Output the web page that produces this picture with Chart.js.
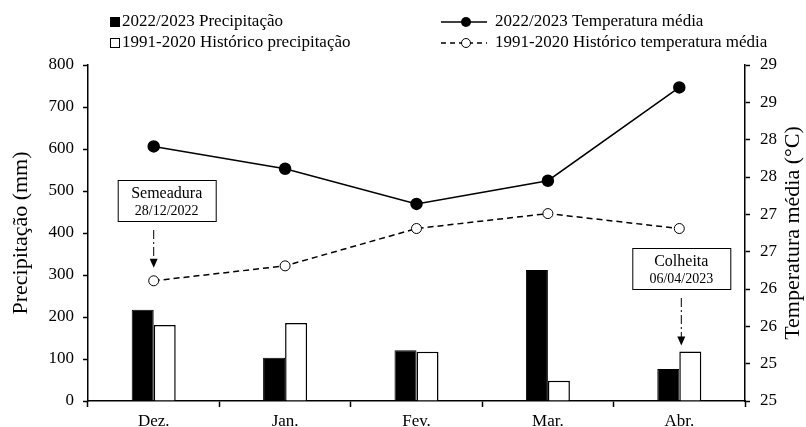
<!DOCTYPE html>
<html lang="pt-BR">
<head>
    <meta charset="UTF-8">
    <title>Precipitação e temperatura</title>
    <style>
        body { margin: 0; background: #ffffff; }
        #grafico { display: block; }
    </style>
    <script src="https://cdn.jsdelivr.net/npm/chart.js"></script>
</head>
<body>
    <canvas id="grafico" width="806" height="427"></canvas>
    <script>
        // dados
        const meses = ['Dez.', 'Jan.', 'Fev.', 'Mar.', 'Abr.'];
        const precip2223 = [217, 103, 121, 312, 76];
        const precipHist = [181, 186, 117, 48, 118];
        const temp2223 = [28.41, 28.11, 27.64, 27.95, 29.20];
        const tempHist = [26.61, 26.81, 27.31, 27.51, 27.31];
        const escalaPrecip = [0, 800, 100];   // min, max, passo
        const escalaTemp = [25, 29.5, 0.5];

        const fonte = '"Liberation Serif", "Times New Roman", serif';

        function caixaEvento(ctx, cx, topo, titulo, data, setaX, pontaY) {
            const w = 98, h = 41;
            ctx.save();
            ctx.fillStyle = '#fff';
            ctx.strokeStyle = '#000';
            ctx.lineWidth = 1;
            ctx.fillRect(cx - w / 2, topo, w, h);
            ctx.strokeRect(cx - w / 2 + 0.5, topo + 0.5, w, h);
            ctx.fillStyle = '#000';
            ctx.textAlign = 'center';
            ctx.textBaseline = 'middle';
            ctx.font = '16px ' + fonte;
            ctx.fillText(titulo, cx, topo + 14);
            ctx.font = '14px ' + fonte;
            ctx.fillText(data, cx, topo + 31);
            // seta traço-ponto
            ctx.beginPath();
            ctx.setLineDash([9, 3, 2, 3]);
            ctx.moveTo(setaX, topo + h + 9);
            ctx.lineTo(setaX, pontaY - 8);
            ctx.stroke();
            ctx.setLineDash([]);
            ctx.beginPath();
            ctx.moveTo(setaX - 4, pontaY - 9);
            ctx.lineTo(setaX + 4, pontaY - 9);
            ctx.lineTo(setaX, pontaY);
            ctx.closePath();
            ctx.fill();
            ctx.restore();
        }

        const extras = {
            id: 'extras',
            afterDraw(chart) {
                const ctx = chart.ctx;
                const x = chart.scales.x, yT = chart.scales.yT, yP = chart.scales.yP;
                const meioY = (chart.chartArea.top + chart.chartArea.bottom) / 2;
                ctx.save();
                ctx.fillStyle = '#000';
                ctx.strokeStyle = '#000';
                ctx.font = '17px ' + fonte;
                ctx.textBaseline = 'middle';
                // legenda
                ctx.fillRect(110, 17, 10, 10);
                ctx.lineWidth = 1;
                ctx.strokeRect(110.5, 38.5, 9, 9);
                ctx.fillText('2022/2023 Precipitação', 122, 22);
                ctx.fillText('1991-2020 Histórico precipitação', 122, 43);
                ctx.lineWidth = 1.5;
                ctx.beginPath();
                ctx.moveTo(441, 22); ctx.lineTo(487, 22);
                ctx.stroke();
                ctx.beginPath();
                ctx.arc(466, 22, 5, 0, Math.PI * 2);
                ctx.fill();
                ctx.setLineDash([5, 4]);
                ctx.beginPath();
                ctx.moveTo(441, 43); ctx.lineTo(487, 43);
                ctx.stroke();
                ctx.setLineDash([]);
                ctx.beginPath();
                ctx.arc(466, 43, 4.5, 0, Math.PI * 2);
                ctx.fillStyle = '#fff';
                ctx.fill();
                ctx.lineWidth = 1;
                ctx.stroke();
                ctx.fillStyle = '#000';
                ctx.fillText('2022/2023 Temperatura média', 495, 22);
                ctx.fillText('1991-2020 Histórico temperatura média', 495, 43);

                // títulos dos eixos (ambos lidos de baixo para cima)
                ctx.font = '22px ' + fonte;
                ctx.textAlign = 'center';
                ctx.save();
                ctx.translate(21, meioY);
                ctx.rotate(-Math.PI / 2);
                ctx.fillText('Precipitação (mm)', 0, 0);
                ctx.restore();
                ctx.save();
                ctx.translate(793, meioY);
                ctx.rotate(-Math.PI / 2);
                ctx.fillText('Temperatura média (°C)', 0, 0);
                ctx.restore();
                ctx.restore();

                // semeadura e colheita
                const xDez = x.getPixelForValue(0);
                caixaEvento(ctx, xDez + 13, 180, 'Semeadura', '28/12/2022', xDez, yT.getPixelForValue(tempHist[0]) - 13);
                const xAbr = x.getPixelForValue(4);
                caixaEvento(ctx, xAbr + 2, 248, 'Colheita', '06/04/2023', xAbr + 2, yP.getPixelForValue(precipHist[4]) - 6);
            }
        };

        new Chart(document.getElementById('grafico'), {
            data: {
                labels: meses,
                datasets: [
                    {
                        type: 'line', label: '2022/2023 Temperatura média', data: temp2223, yAxisID: 'yT',
                        borderColor: '#000', borderWidth: 1.5, pointRadius: 5.5,
                        pointBackgroundColor: '#000', pointBorderColor: '#000', order: 0
                    },
                    {
                        type: 'line', label: '1991-2020 Histórico temperatura média', data: tempHist, yAxisID: 'yT',
                        borderColor: '#000', borderWidth: 1.5, borderDash: [6, 4], pointRadius: 5,
                        pointBackgroundColor: '#fff', pointBorderColor: '#000', pointBorderWidth: 1, order: 1
                    },
                    {
                        type: 'bar', label: '2022/2023 Precipitação', data: precip2223, yAxisID: 'yP',
                        backgroundColor: '#000', borderColor: '#000', borderWidth: 1,
                        categoryPercentage: 0.335, barPercentage: 1, order: 2
                    },
                    {
                        type: 'bar', label: '1991-2020 Histórico precipitação', data: precipHist, yAxisID: 'yP',
                        backgroundColor: '#fff', borderColor: '#000', borderWidth: 1.5,
                        categoryPercentage: 0.335, barPercentage: 1, order: 2
                    }
                ]
            },
            options: {
                responsive: false,
                animation: false,
                layout: { padding: { top: 65, left: 0, right: 0, bottom: 0 } },
                plugins: { legend: { display: false }, tooltip: { enabled: false } },
                scales: {
                    x: {
                        offset: true,
                        grid: { offset: true, drawOnChartArea: false, tickLength: 6, color: '#000', tickWidth: 1.5 },
                        border: { color: '#000', width: 1.5 },
                        ticks: { color: '#000', font: { family: fonte, size: 17 }, padding: 4 },
                        afterFit(s) { s.height = 26; }
                    },
                    yP: {
                        position: 'left',
                        min: escalaPrecip[0], max: escalaPrecip[1],
                        ticks: { stepSize: escalaPrecip[2], color: '#000', font: { family: fonte, size: 17 }, padding: 9 },
                        grid: { drawOnChartArea: false, tickLength: 5, color: '#000', tickWidth: 1.5 },
                        border: { color: '#000', width: 1.5 },
                        afterFit(s) { s.width = 88; }
                    },
                    yT: {
                        position: 'right',
                        min: escalaTemp[0], max: escalaTemp[1],
                        ticks: {
                            stepSize: escalaTemp[2], color: '#000', font: { family: fonte, size: 17 }, padding: 10,
                            callback: v => Math.floor(v)
                        },
                        grid: { drawOnChartArea: false, tickLength: 5, color: '#000', tickWidth: 1.5 },
                        border: { color: '#000', width: 1.5 },
                        afterFit(s) { s.width = 61; }
                    }
                }
            },
            plugins: [extras]
        });
    </script>
</body>
</html>
